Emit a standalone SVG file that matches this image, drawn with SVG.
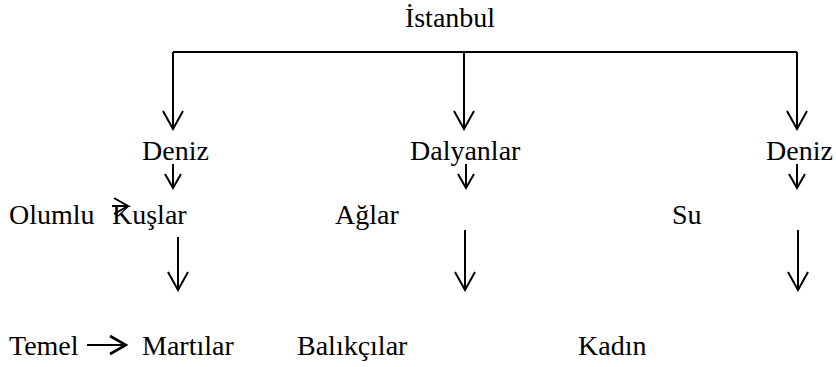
<svg xmlns="http://www.w3.org/2000/svg" width="836" height="367" viewBox="0 0 836 367">
<style>
.t{font-family:"Liberation Serif","Times New Roman","DejaVu Serif",serif;font-size:28px;fill:#000}
.ln{stroke:#000;stroke-width:2;fill:none}
</style>
<defs>
<marker id="big" markerUnits="userSpaceOnUse" viewBox="-20 -12 22 24" refX="0" refY="0" markerWidth="22" markerHeight="24" orient="auto">
<path d="M-18,-10 L0,0 L-18,10" fill="none" stroke="#000" stroke-width="2"/>
</marker>
<marker id="small" markerUnits="userSpaceOnUse" viewBox="-16 -10 18 20" refX="0" refY="0" markerWidth="18" markerHeight="20" orient="auto">
<path d="M-14,-8 L0,0 L-14,8" fill="none" stroke="#000" stroke-width="2"/>
</marker>
<marker id="side" markerUnits="userSpaceOnUse" viewBox="-18 -11 20 22" refX="0" refY="0" markerWidth="20" markerHeight="22" orient="auto">
<path d="M-16,-9 L0,0 L-16,9" fill="none" stroke="#000" stroke-width="2.6"/>
</marker>
</defs>
<g id="connectors">
<path class="ln" d="M173,52 H797"/>
<path class="ln" d="M173,52 V129" marker-end="url(#big)"/>
<path class="ln" d="M464,52 V129" marker-end="url(#big)"/>
<path class="ln" d="M797,52 V129" marker-end="url(#big)"/>
<path class="ln" d="M173,164 V188" marker-end="url(#small)"/>
<path class="ln" d="M466,164 V188" marker-end="url(#small)"/>
<path class="ln" d="M797,164 V188" marker-end="url(#small)"/>
<path class="ln" d="M178,237 V290" marker-end="url(#big)"/>
<path class="ln" d="M465,230 V290" marker-end="url(#big)"/>
<path class="ln" d="M798,230 V290" marker-end="url(#big)"/>
<path class="ln" d="M112,206 H128" marker-end="url(#small)"/>
<path class="ln" d="M87,345 H126" stroke-width="2.6" marker-end="url(#side)"/>
</g>
<g font-family="Liberation Serif, Times New Roman, DejaVu Serif, serif" font-size="28">
<g id="istanbul"><text class="t" x="450" y="27" text-anchor="middle">İstanbul</text></g>
<g id="deniz1"><text class="t" x="142" y="160">Deniz</text></g>
<g id="dalyanlar"><text class="t" x="410" y="160">Dalyanlar</text></g>
<g id="deniz2"><text class="t" x="766" y="160">Deniz</text></g>
<g id="olumlu"><text class="t" x="9" y="224">Olumlu</text></g>
<g id="kuslar"><text class="t" x="112" y="224">Kuşlar</text></g>
<g id="aglar"><text class="t" x="335" y="224">Ağlar</text></g>
<g id="su"><text class="t" x="672" y="224">Su</text></g>
<g id="temel"><text class="t" x="9" y="355">Temel</text></g>
<g id="martilar"><text class="t" x="142" y="355">Martılar</text></g>
<g id="balikcilar"><text class="t" x="297" y="355">Balıkçılar</text></g>
<g id="kadin"><text class="t" x="578" y="355">Kadın</text></g>
</g>
</svg>
